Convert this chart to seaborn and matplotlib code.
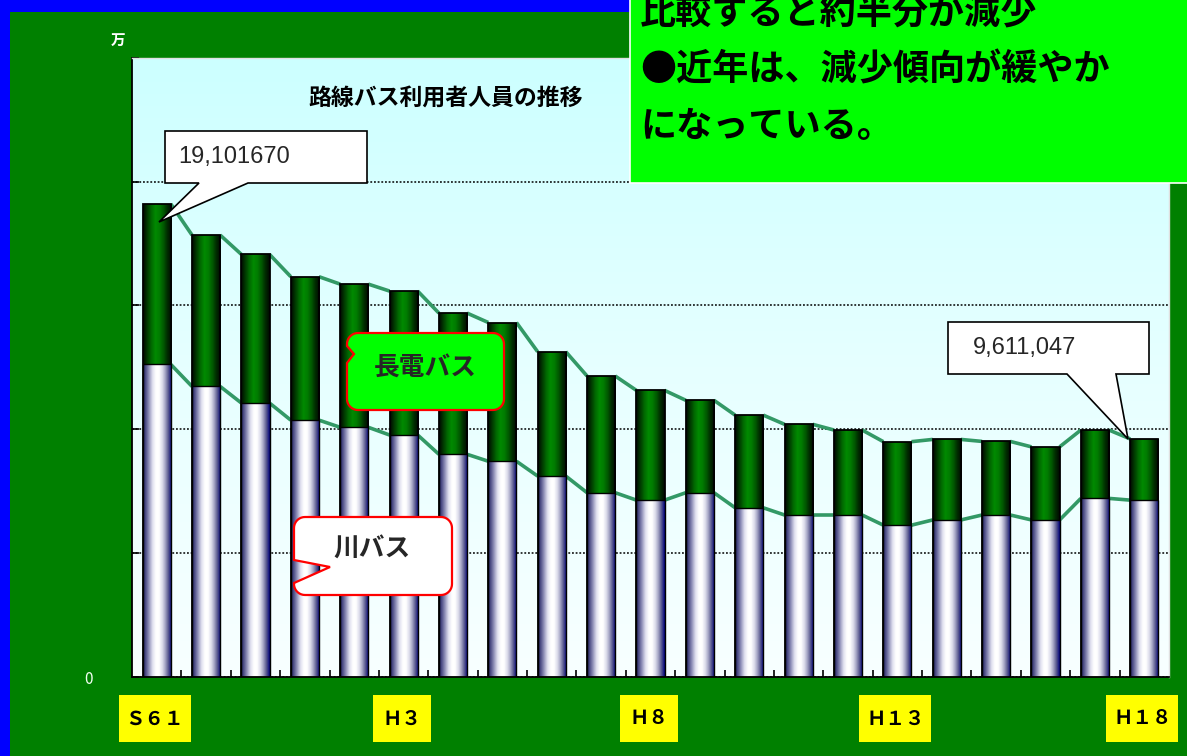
import numpy as np
import pandas as pd
import matplotlib
matplotlib.use("Agg")
import matplotlib.pyplot as plt
import seaborn as sns
from matplotlib.colors import LinearSegmentedColormap
from matplotlib.patches import Rectangle, Polygon

# ---------------- data (万人) ----------------
years = ["S61", "S62", "S63", "H1", "H2", "H3", "H4", "H5", "H6", "H7", "H8",
         "H9", "H10", "H11", "H12", "H13", "H14", "H15", "H16", "H17", "H18"]
kawa_bus = [1262, 1173, 1106, 1037, 1008, 977, 899, 871, 811, 744, 714,
            744, 683, 654, 654, 613, 634, 654, 634, 721, 714]
nagaden_bus = [648, 611, 600, 579, 578, 581, 570, 560, 502, 471, 443,
               373, 374, 366, 343, 337, 325, 297, 295, 276, 247]
label_idx = [0, 5, 10, 15, 20]
tick_labels = ["Ｓ６１", "Ｈ３", "Ｈ８", "Ｈ１３", "Ｈ１８"]
y_ticks = [0, 500, 1000, 1500, 2000, 2500]
y_tick_labels = ["0", "", "", "", "", ""]
first_label = "19,101670"
last_label = "9,611,047"
title = "路線バス利用者人員の推移"
note_lines = ["比較すると約半分が減少", "●近年は、減少傾向が緩やか", "になっている。"]

sns.set_theme(style="ticks")
plt.rcParams["font.family"] = ["Noto Sans CJK JP", "DejaVu Sans"]

W, H = 1187, 756
fig = plt.figure(figsize=(W / 100, H / 100), dpi=100)
fig.patch.set_facecolor("#008000")

ax = fig.add_axes([132 / W, (H - 677) / H, 1037 / W, 619.3 / H])

df = pd.DataFrame({"year": years, "kawa": kawa_bus, "nagaden": nagaden_bus})
df["total"] = df["kawa"] + df["nagaden"]

sns.barplot(data=df, x="year", y="total", order=years, color="green", width=0.57,
            ax=ax, edgecolor="black", linewidth=1.3, saturation=1, errorbar=None)
sns.barplot(data=df, x="year", y="kawa", order=years, color="white", width=0.57,
            ax=ax, edgecolor="black", linewidth=1.0, saturation=1, errorbar=None)

green_cols = ["#000800", "#003a00", "#006800", "#008a00", "#007c00", "#005800", "#002a00", "#000800"]
kawa_cols = ["#202060", "#5a5a90", "#a0a0c4", "#e2e2f0", "#ffffff", "#ffffff",
             "#dedeec", "#a4a4c4", "#55558c", "#000080"]


def fill_gradient(patch, colors, z):
    x0, y0 = patch.get_x(), patch.get_y()
    w, h = patch.get_width(), patch.get_height()
    cmap = LinearSegmentedColormap.from_list("g", colors)
    grad = np.linspace(0, 1, 64)[None, :]
    im = ax.imshow(grad, cmap=cmap, extent=[x0, x0 + w, y0, y0 + h], aspect="auto",
                   interpolation="bilinear", zorder=z, origin="lower")
    im.set_clip_path(patch)
    patch.set_facecolor("none")
    patch.set_zorder(z + 0.05)


green_patches = list(ax.containers[0])
kawa_patches = list(ax.containers[1])
for p in green_patches:
    fill_gradient(p, green_cols, 2.1)
for p in kawa_patches:
    fill_gradient(p, kawa_cols, 2.3)

# connecting series lines
totals = df["total"].tolist()
for i in range(len(years) - 1):
    xr = green_patches[i].get_x() + green_patches[i].get_width()
    xl = green_patches[i + 1].get_x()
    ax.plot([xr, xl], [totals[i], totals[i + 1]], color="#339966", lw=2.6,
            zorder=1.8, solid_capstyle="butt")
    ax.plot([xr, xl], [kawa_bus[i], kawa_bus[i + 1]], color="#339966", lw=2.6,
            zorder=1.8, solid_capstyle="butt")

# background gradient
bg = np.linspace(0, 1, 256)[:, None]
bg_cmap = LinearSegmentedColormap.from_list("bg", ["#f8ffff", "#e6ffff", "#ccffff"])
ax.imshow(bg, cmap=bg_cmap, extent=[0, 1, 0, 1], transform=ax.transAxes,
          origin="lower", aspect="auto", zorder=0)

ax.set_xlim(-0.5, len(years) - 0.5)
ax.set_ylim(0, 2500)
ax.set_yticks(y_ticks)
ax.set_yticklabels(y_tick_labels)
ax.set_xticks(range(len(years)))
ax.set_xticklabels([""] * len(years))
ax.set_xticks([i + 0.5 for i in range(len(years) - 1)], minor=True)
ax.tick_params(axis="x", which="major", length=0)
ax.tick_params(axis="x", which="minor", direction="in", length=5, width=1.2,
               color="black", bottom=True)
ax.tick_params(axis="y", direction="in", length=5, width=1.2, color="black",
               labelcolor="#f0fff0", labelsize=11, pad=28, left=True)
ax.set_xlabel("")
ax.set_ylabel("")
ax.set_axisbelow(True)
ax.yaxis.grid(True, color="black", linestyle=(0, (1.2, 1.2)), lw=1.1)
for s in ["left", "bottom"]:
    ax.spines[s].set_color("black")
    ax.spines[s].set_linewidth(1.3)
for s in ["top", "right"]:
    ax.spines[s].set_color("#e0e0e0")
    ax.spines[s].set_linewidth(1.0)

# ---------------- overlay in pixel coordinates ----------------
ov = fig.add_axes([0, 0, 1, 1], zorder=10)
ov.set_xlim(0, W)
ov.set_ylim(H, 0)
ov.axis("off")
ov.patch.set_alpha(0)

ov.add_patch(Rectangle((0, 0), 630, 12, fc="#0000ff", ec="none"))
ov.add_patch(Rectangle((0, 0), 10, H, fc="#0000ff", ec="none"))

# note box
ov.add_patch(Rectangle((630, -2), 560, 185, fc="#00ff00", ec="white", lw=1.2))
for yy, line in zip([14, 70, 126], note_lines):
    ov.text(640, yy, line, fontsize=26, weight="bold", va="center", ha="left", color="black")

ov.text(446, 98, title, fontsize=16.5, weight="bold", ha="center", va="center", color="black")
ov.text(118, 40, "万", fontsize=10.5, weight="bold", ha="center", va="center", color="white")

# callouts
c1 = [(165, 131), (367, 131), (367, 183), (248, 183), (159, 222), (199, 183), (165, 183)]
ov.add_patch(Polygon(c1, closed=True, fc="white", ec="black", lw=1.2))
ov.text(178, 157, first_label, fontsize=17, family="Liberation Sans", ha="left", va="center")
c2 = [(948, 322), (1149, 322), (1149, 374), (1116, 374), (1128, 439), (1067, 374), (948, 374)]
ov.add_patch(Polygon(c2, closed=True, fc="white", ec="black", lw=1.2))
ov.text(973, 348, last_label, fontsize=17, family="Liberation Sans", ha="left", va="center")


def rounded_poly(x0, y0, x1, y1, r, notch):
    pts = []

    def arc(cx, cy, a0, a1):
        for a in np.linspace(a0, a1, 10):
            pts.append((cx + r * np.cos(a), cy + r * np.sin(a)))

    arc(x0 + r, y0 + r, np.pi, 1.5 * np.pi)
    arc(x1 - r, y0 + r, 1.5 * np.pi, 2 * np.pi)
    arc(x1 - r, y1 - r, 0, 0.5 * np.pi)
    arc(x0 + r, y1 - r, 0.5 * np.pi, np.pi)
    pts.extend(notch)
    return pts


p_nag = rounded_poly(347, 333, 504, 410, 11, [(347, 363), (354, 354), (347, 346)])
ov.add_patch(Polygon(p_nag, closed=True, fc="#00ff00", ec="#ff0000", lw=1.6))
ov.text(425, 367, "長電バス", fontsize=18.5, weight="bold", ha="center", va="center")

p_kawa = rounded_poly(294, 517, 452, 595, 11, [(294, 583), (330, 567), (294, 560)])
ov.add_patch(Polygon(p_kawa, closed=True, fc="white", ec="#ff0000", lw=1.6))
ov.text(372, 548, "川バス", fontsize=18.5, weight="bold", ha="center", va="center")

# yellow x labels
fig.canvas.draw()
for idx, lab in zip(label_idx, tick_labels):
    cx_disp = ax.transData.transform((idx, 0))[0]
    bw = 30 + 14 * len(lab)
    ov.add_patch(Rectangle((cx_disp - bw / 2 - 2, 695), bw, 47, fc="#ffff00", ec="none"))
    ov.text(cx_disp - 2, 719, lab, fontsize=14, weight="bold", ha="center", va="center",
            color="black")

fig.savefig("out.png", dpi=100, facecolor=fig.get_facecolor())
